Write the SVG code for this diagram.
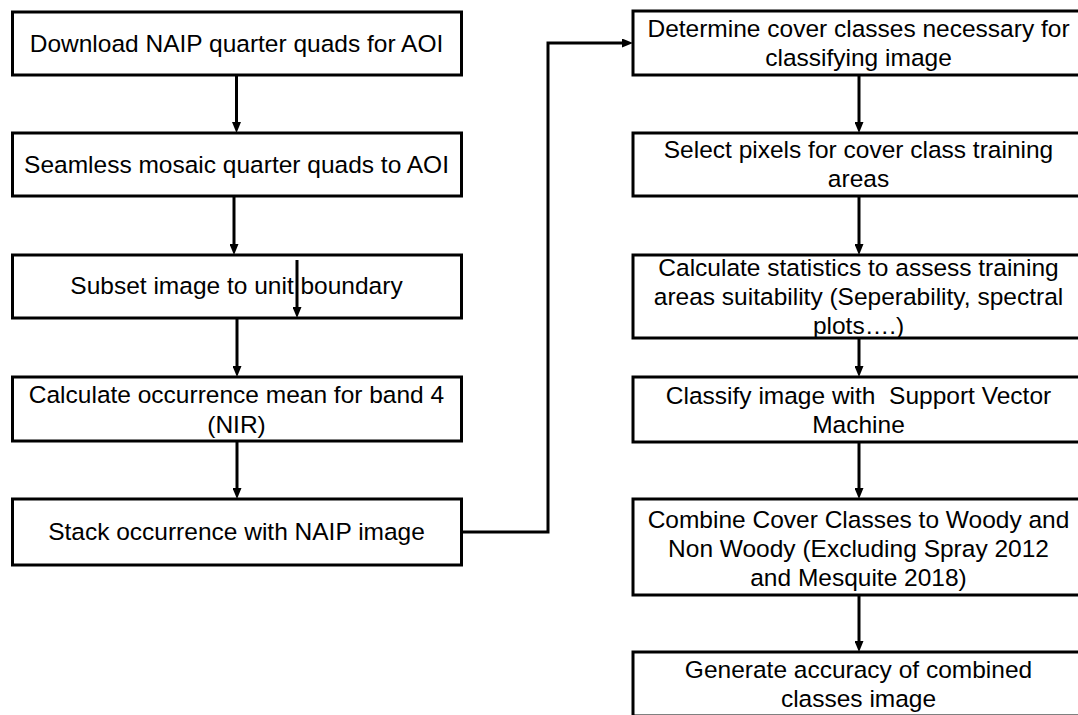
<svg xmlns="http://www.w3.org/2000/svg" width="1078" height="715" viewBox="0 0 1078 715">
<style>
.box{fill:#fff;stroke:#000;stroke-width:3}
.t{font-family:"Liberation Sans",Arial,sans-serif;font-size:24.5px;fill:#000;text-anchor:middle}
.c{fill:none;stroke:#000;stroke-width:3}
</style>
<defs>
<marker id="ah" markerUnits="userSpaceOnUse" markerWidth="11" markerHeight="9" refX="2" refY="4.5" orient="auto">
<path d="M0,0 L11,4.5 L0,9 z" fill="#000"/>
</marker>
</defs>
<rect width="1078" height="715" fill="#fff"/>
<g id="connectors">
<path class="c" d="M236.5,75 V124" marker-end="url(#ah)"/>
<path class="c" d="M234,196 V246" marker-end="url(#ah)"/>
<path class="c" d="M237,318 V368" marker-end="url(#ah)"/>
<path class="c" d="M237,441 V490" marker-end="url(#ah)"/>
<path class="c" d="M461,532 H548 V43 H624" marker-end="url(#ah)"/>
<path class="c" d="M859,75 V124" marker-end="url(#ah)"/>
<path class="c" d="M859,196 V246" marker-end="url(#ah)"/>
<path class="c" d="M859,338 V368" marker-end="url(#ah)"/>
<path class="c" d="M859,442 V490" marker-end="url(#ah)"/>
<path class="c" d="M859,595 V643" marker-end="url(#ah)"/>
</g>
<g id="n1"><rect class="box" x="12.5" y="12" width="449" height="63"/><text class="t" x="236.5" y="52">Download NAIP quarter quads for AOI</text></g>
<g id="n2"><rect class="box" x="12.5" y="133" width="449" height="63"/><text class="t" x="236.5" y="173">Seamless mosaic quarter quads to AOI</text></g>
<g id="n3"><rect class="box" x="12.5" y="255" width="449" height="63"/><text class="t" x="236.5" y="294">Subset image to unit boundary</text></g>
<g id="n4"><rect class="box" x="12.5" y="377" width="449" height="64"/><text class="t" x="236.5" y="403">Calculate occurrence mean for band 4</text><text class="t" x="236.5" y="433">(NIR)</text></g>
<g id="n5"><rect class="box" x="12.5" y="499" width="449" height="66"/><text class="t" x="236.5" y="540">Stack occurrence with NAIP image</text></g>
<g id="extra-arrow"><path class="c" d="M297,260 V309" marker-end="url(#ah)"/></g>
<g id="r1"><rect class="box" x="633" y="11" width="452" height="64"/><text class="t" x="858.5" y="37">Determine cover classes necessary for</text><text class="t" x="858.5" y="66">classifying image</text></g>
<g id="r2"><rect class="box" x="633" y="133" width="452" height="63"/><text class="t" x="858.5" y="158">Select pixels for cover class training</text><text class="t" x="858.5" y="187">areas</text></g>
<g id="r3"><rect class="box" x="633" y="255" width="452" height="83"/><text class="t" x="858.5" y="276">Calculate statistics to assess training</text><text class="t" x="858.5" y="305">areas suitability (Seperability, spectral</text><text class="t" x="858.5" y="334">plots….)</text></g>
<g id="r4"><rect class="box" x="633" y="377" width="452" height="65"/><text class="t" x="858.5" y="404" style="white-space:pre">Classify image with  Support Vector</text><text class="t" x="858.5" y="433">Machine</text></g>
<g id="r5"><rect class="box" x="633" y="499" width="452" height="96"/><text class="t" x="858.5" y="528">Combine Cover Classes to Woody and</text><text class="t" x="858.5" y="557">Non Woody (Excluding Spray 2012</text><text class="t" x="858.5" y="586">and Mesquite 2018)</text></g>
<g id="r6"><rect class="box" x="633" y="652" width="452" height="64"/><text class="t" x="858.5" y="678">Generate accuracy of combined</text><text class="t" x="858.5" y="707">classes image</text></g>
</svg>
